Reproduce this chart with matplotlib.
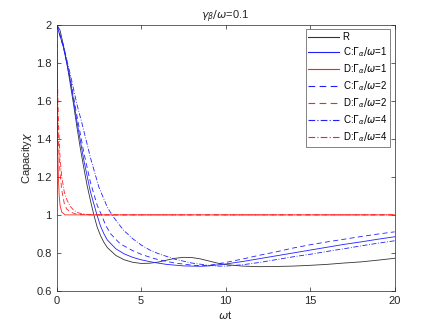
"""Capacity chi vs omega*t for several Gamma_alpha values."""
import numpy as np
import matplotlib
matplotlib.use("Agg")
import matplotlib.pyplot as plt

plt.rcParams["font.family"] = ["Liberation Sans", "DejaVu Sans"]
plt.rcParams["mathtext.fontset"] = "dejavusans"

# R curve
t_r = [0, 0.2, 0.4, 0.6, 0.8, 1.0, 1.2, 1.4, 1.6, 1.8, 2.0, 2.2, 2.4, 2.6, 2.8, 3.0, 3.5,
       4.0, 4.5, 5.0, 5.5, 6.0, 6.5, 7.0, 7.5, 8.0, 8.5, 9.0, 9.5, 10, 11, 12, 13, 14,
       15, 16, 17, 18, 19, 20]
r_vals = [2.0, 1.97, 1.89, 1.80, 1.69, 1.58, 1.46, 1.35, 1.25, 1.155, 1.075, 1.0, 0.935,
          0.89, 0.855, 0.828, 0.787, 0.764, 0.751, 0.745, 0.746, 0.752, 0.762, 0.772, 0.777,
          0.776, 0.769, 0.758, 0.747, 0.739, 0.731, 0.728, 0.729, 0.731, 0.735, 0.74,
          0.747, 0.753, 0.762, 0.772]

# C curves (blue)
t_c1 = [0, 0.4, 0.8, 1.2, 1.6, 2.0, 2.4, 2.6, 2.8, 3.0, 3.5, 4.0, 4.5, 5.0, 5.7, 6.5, 7.5,
        8.5, 9, 10, 11, 12, 13, 14, 15, 16, 17, 18, 19, 20]
c1_vals = [2.0, 1.88, 1.71, 1.49, 1.29, 1.12, 0.995, 0.94, 0.9, 0.868, 0.822, 0.795, 0.777,
           0.764, 0.751, 0.74, 0.732, 0.73, 0.732, 0.742, 0.755, 0.77, 0.785, 0.8, 0.815,
           0.83, 0.845, 0.858, 0.872, 0.885]

t_c2 = [0, 0.4, 0.8, 1.2, 1.6, 2.0, 2.4, 2.7, 2.9, 3.2, 3.76, 4.5, 5.0, 5.5, 6.0, 7.0, 8.0,
        8.5, 9, 10, 11, 12, 13, 14, 15, 16, 17, 18, 19, 20]
c2_vals = [2.0, 1.88, 1.72, 1.52, 1.33, 1.17, 1.05, 0.99, 0.945, 0.9, 0.848, 0.812, 0.793,
           0.778, 0.765, 0.747, 0.736, 0.733, 0.735, 0.75, 0.768, 0.788, 0.806, 0.826, 0.843,
           0.858, 0.872, 0.886, 0.899, 0.911]

t_c4 = [0, 0.4, 0.8, 1.2, 1.5, 2.0, 2.5, 3.0, 3.3, 3.95, 4.5, 5.0, 5.5, 6.0, 7.0, 8.0, 9.0,
        9.5, 10, 11, 12, 13, 14, 15, 16, 17, 18, 19, 20]
c4_vals = [2.0, 1.89, 1.74, 1.58, 1.48, 1.30, 1.145, 1.04, 0.996, 0.92, 0.875, 0.842, 0.816,
           0.797, 0.767, 0.747, 0.735, 0.731, 0.731, 0.738, 0.75, 0.765, 0.78, 0.793, 0.808,
           0.822, 0.837, 0.851, 0.864]

# D curves (red)
t_d1 = [0, 0.02, 0.05, 0.1, 0.15, 0.2, 0.3, 0.5, 20]
d1_vals = [2.0, 1.7, 1.4, 1.2, 1.1, 1.05, 1.015, 1.0, 1.0]

t_d2 = [0, 0.03, 0.07, 0.12, 0.2, 0.3, 0.45, 0.6, 0.8, 1.2, 2.0, 20]
d2_vals = [2.0, 1.7, 1.5, 1.35, 1.22, 1.13, 1.06, 1.03, 1.015, 1.003, 1.0, 1.0]

t_d4 = [0, 0.04, 0.1, 0.2, 0.3, 0.45, 0.6, 0.8, 1.0, 1.3, 1.8, 2.5, 20]
d4_vals = [2.0, 1.75, 1.5, 1.3, 1.2, 1.12, 1.08, 1.045, 1.025, 1.01, 1.002, 1.0, 1.0]

fig = plt.figure(figsize=(4.36, 3.27), dpi=100)
ax = fig.add_axes([0.13, 0.11, 0.775, 0.815])

lw = 0.6
black = "#333333"
blue = "#2020ff"
red = "#ff2020"
dash = (0, (6, 4))
dashdot = (0, (6, 2, 1, 2))
ax.plot(t_r, r_vals, color=black, linewidth=lw, label="R")
ax.plot(t_c1, c1_vals, color=blue, linewidth=lw, label=r"C:$\Gamma_\alpha/\omega$=1")
ax.plot(t_d1, d1_vals, color=red, linewidth=lw, label=r"D:$\Gamma_\alpha/\omega$=1")
ax.plot(t_c2, c2_vals, color=blue, linewidth=lw, linestyle=dash,
        label=r"C:$\Gamma_\alpha/\omega$=2")
ax.plot(t_d2, d2_vals, color=red, linewidth=lw, linestyle=dash,
        label=r"D:$\Gamma_\alpha/\omega$=2")
ax.plot(t_c4, c4_vals, color=blue, linewidth=lw, linestyle=dashdot,
        label=r"C:$\Gamma_\alpha/\omega$=4")
ax.plot(t_d4, d4_vals, color=red, linewidth=lw, linestyle=dashdot,
        label=r"D:$\Gamma_\alpha/\omega$=4")

ax.set_xlim(0, 20)
ax.set_ylim(0.6, 2)
ax.set_xticks([0, 5, 10, 15, 20])
ax.set_yticks([0.6, 0.8, 1.0, 1.2, 1.4, 1.6, 1.8, 2.0])
ax.set_yticklabels(["0.6", "0.8", "1", "1.2", "1.4", "1.6", "1.8", "2"])
ax.tick_params(direction="in", top=True, right=True, labelsize=8, colors="#262626",
               length=3, width=0.5)
for s in ax.spines.values():
    s.set_color("#262626")
    s.set_linewidth(0.5)

ax.set_xlabel(r"$\omega$t", fontsize=8, color="#262626", labelpad=2)
ax.set_ylabel(r"Capacity$\chi$", fontsize=8, color="#262626", labelpad=2)
ax.set_title(r"$\gamma_\beta/\omega$=0.1", fontsize=8, color="#262626", pad=4)

leg = ax.legend(loc="upper right", fontsize=7, frameon=True, fancybox=False,
                edgecolor="#262626", borderpad=0.3, labelspacing=0.32, handlelength=3.1,
                handletextpad=0.4, borderaxespad=0.5)
leg.get_frame().set_linewidth(0.5)
for line in leg.get_lines():
    line.set_linewidth(0.8)

fig.savefig("out.png", dpi=100)
